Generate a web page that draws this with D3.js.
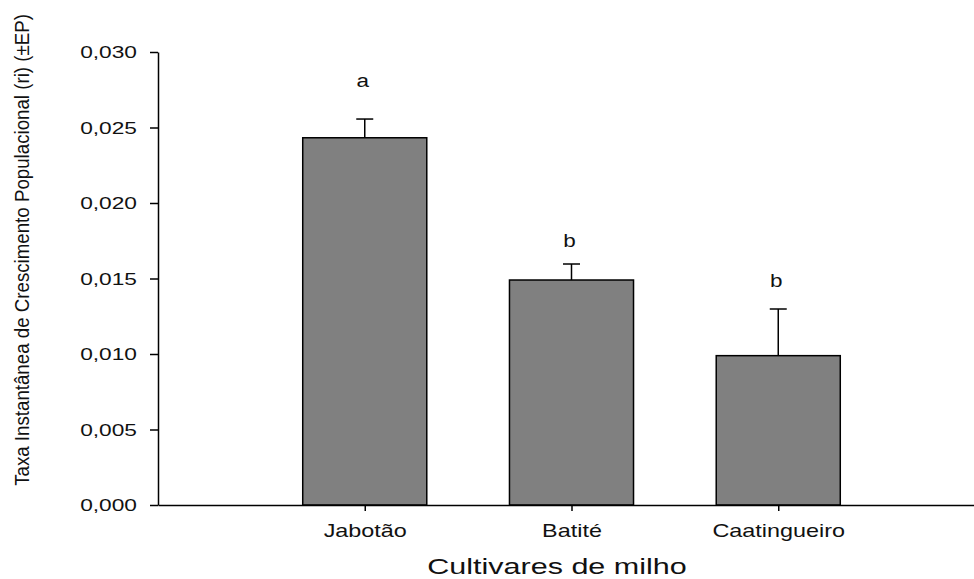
<!DOCTYPE html>
<html>
<head>
<meta charset="utf-8">
<script src="https://cdn.jsdelivr.net/npm/d3@7"></script>
<style>
  body { margin: 0; background: #fff; }
  svg { display: block; font-family: "Liberation Sans", Arial, sans-serif; }
</style>
</head>
<body>
<svg id="chart" width="974" height="579"></svg>
<script>
// dados
const cultivares = ["Jabotão", "Batité", "Caatingueiro"];
const taxaMedia = [0.02432, 0.0149, 0.00989];
const erroPadrao = [0.00124, 0.00106, 0.00309];
const letras = ["a", "b", "b"];
const letraValor = [0.02766, 0.01711, 0.01446];
const yTicks = [0, 0.005, 0.010, 0.015, 0.020, 0.025, 0.030];

const svg = d3.select("#chart");
const x0 = 158, yBase = 505, yTop = 52;

const x = d3.scaleLinear().domain([0, 4]).range([x0, 985]);
const y = d3.scaleLinear().domain([0, 0.030]).range([yBase, yTop]);
const fmt = d3.formatLocale({ decimal: ",", thousands: ".", grouping: [3], currency: ["", ""] }).format(".3f");
const barW = 0.6;

const data = cultivares.map((c, i) => ({ c, pos: i + 1, v: taxaMedia[i], ep: erroPadrao[i], l: letras[i], lv: letraValor[i] }));

// barras
svg.append("g").selectAll("rect")
  .data(data).enter().append("rect")
  .attr("x", d => x(d.pos - barW / 2))
  .attr("width", d => x(d.pos + barW / 2) - x(d.pos - barW / 2))
  .attr("y", d => y(d.v))
  .attr("height", d => y(0) - y(d.v))
  .attr("fill", "#808080")
  .attr("stroke", "#000")
  .attr("stroke-width", 1.5);

// barras de erro (so para cima)
const eb = svg.append("g").attr("stroke", "#000").attr("stroke-width", 1.5);
eb.selectAll(".v").data(data).enter().append("line")
  .attr("x1", d => x(d.pos)).attr("x2", d => x(d.pos))
  .attr("y1", d => y(d.v)).attr("y2", d => y(d.v + d.ep));
eb.selectAll(".c").data(data).enter().append("line")
  .attr("x1", d => x(d.pos) - 8.5).attr("x2", d => x(d.pos) + 8.5)
  .attr("y1", d => y(d.v + d.ep)).attr("y2", d => y(d.v + d.ep));

// letras
svg.append("g").selectAll("text")
  .data(data).enter().append("text")
  .attr("transform", d => `translate(${x(d.pos) - 2},${y(d.lv)}) scale(1.25,1)`)
  .attr("text-anchor", "middle")
  .attr("font-size", 18)
  .attr("fill", "#111")
  .text(d => d.l);

// eixo y
const gy = svg.append("g")
  .attr("transform", `translate(${x0},0)`)
  .call(d3.axisLeft(y).tickValues(yTicks).tickFormat(fmt).tickSize(8).tickSizeOuter(0));
gy.select(".domain").attr("stroke-width", 1.5);
gy.selectAll(".tick line").attr("stroke-width", 1.5);
gy.selectAll(".tick text")
  .attr("x", 0).attr("dy", "0.36em")
  .attr("transform", "translate(-21,0) scale(1.42,1)")
  .attr("font-size", 16)
  .attr("font-family", "Liberation Sans, Arial, sans-serif")
  .attr("fill", "#111");

// eixo x
const gx = svg.append("g")
  .attr("transform", `translate(0,${yBase})`)
  .call(d3.axisBottom(x).tickValues([1, 2, 3]).tickFormat(i => cultivares[i - 1]).tickSize(6).tickSizeOuter(0));
gx.select(".domain").attr("stroke-width", 1.5);
gx.selectAll(".tick line").attr("stroke-width", 1.5);
gx.selectAll(".tick text")
  .attr("y", 0).attr("dy", 0)
  .attr("transform", "translate(0,32) scale(1.3,1)")
  .attr("font-size", 18)
  .attr("font-family", "Liberation Sans, Arial, sans-serif")
  .attr("fill", "#111");

// titulos
svg.append("text")
  .attr("transform", "translate(557,574) scale(1.42,1)")
  .attr("text-anchor", "middle")
  .attr("font-size", 21.5)
  .attr("fill", "#111")
  .text("Cultivares de milho");

svg.append("text")
  .attr("transform", "translate(29,250) rotate(-90) scale(0.935,1)")
  .attr("text-anchor", "middle")
  .attr("font-size", 20)
  .attr("fill", "#111")
  .text("Taxa Instantânea de Crescimento Populacional (ri) (±EP)");
</script>
</body>
</html>
